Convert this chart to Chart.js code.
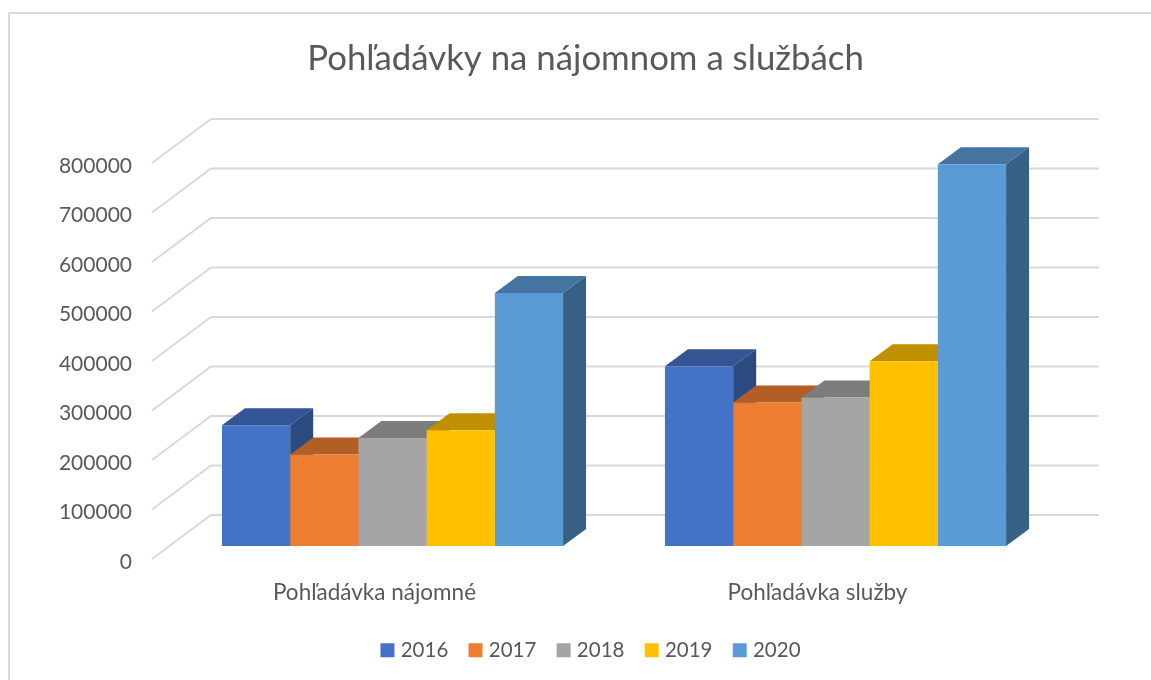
<!DOCTYPE html>
<html lang="sk">
<head>
<meta charset="utf-8">
<title>Pohľadávky na nájomnom a službách</title>
<script src="https://cdn.jsdelivr.net/npm/chart.js@4"></script>
<style>
html,body{margin:0;padding:0;background:#fff;overflow:hidden}
#wrap{position:absolute;left:0;top:0;width:1151px;height:680px}
</style>
</head>
<body>
<div id="wrap"><canvas id="c" width="1151" height="680"></canvas></div>
<script>
const chartTitle = "Pohľadávky na nájomnom a službách";
const categories = ["Pohľadávka nájomné", "Pohľadávka služby"];
const years = ["2016", "2017", "2018", "2019", "2020"];
const values2016 = [244000, 363000];
const values2017 = [185000, 290000];
const values2018 = [218000, 300000];
const values2019 = [234000, 373000];
const values2020 = [511000, 771000];
const seriesValues = [values2016, values2017, values2018, values2019, values2020];
const frontColors = ["#4472C4", "#ED7D31", "#A5A5A5", "#FFC000", "#5B9BD5"];
const topColors   = ["#335593", "#B25E25", "#7C7C7C", "#BF9000", "#44749F"];
const sideColors  = ["#2A4A80", "#8E4B1E", "#636363", "#997300", "#376085"];

const TEXT = "#595959", GRID = "#d9d9d9", FONT = "Lato, 'Open Sans', sans-serif";
const BAR_DX = 23, BAR_DY = 17;

const scene3d = {
  id: "scene3d",
  afterLayout(chart) {
    const l = chart.legend;
    l.left += 7; l.right += 7;
    l.top -= 9.5; l.bottom -= 9.5;
  },
  beforeDraw(chart) {
    const g = chart.ctx;
    g.save();
    g.fillStyle = "#fff";
    g.fillRect(0, 0, chart.width, chart.height);
    g.strokeStyle = GRID;
    g.lineWidth = 2;
    g.beginPath();
    g.moveTo(9, chart.height);
    g.lineTo(9, 13);
    g.lineTo(chart.width, 13);
    g.stroke();
    g.restore();
  },
  beforeDatasetsDraw(chart) {
    const g = chart.ctx, y = chart.scales.y, x = chart.scales.x;
    g.save();
    g.strokeStyle = GRID;
    g.lineWidth = 2;
    y.ticks.forEach(t => {
      const p = y.getPixelForValue(t.value);
      g.beginPath();
      g.moveTo(x.left - 19, p + 13);
      g.lineTo(x.left + 40, p - 31);
      g.lineTo(x.right + 42, p - 31);
      g.stroke();
    });
    g.restore();
    chart.data.datasets.forEach((ds, i) => {
      chart.getDatasetMeta(i).data.forEach(bar => {
        const l = bar.x - bar.width / 2, r = bar.x + bar.width / 2, t = bar.y, b = bar.base;
        g.fillStyle = topColors[i];
        g.beginPath();
        g.moveTo(l, t);
        g.lineTo(l + BAR_DX, t - BAR_DY);
        g.lineTo(r + BAR_DX, t - BAR_DY);
        g.lineTo(r, t);
        g.closePath();
        g.fill();
        g.fillStyle = sideColors[i];
        g.beginPath();
        g.moveTo(r, t);
        g.lineTo(r + BAR_DX, t - BAR_DY);
        g.lineTo(r + BAR_DX, b - BAR_DY);
        g.lineTo(r, b);
        g.closePath();
        g.fill();
      });
    });
  }
};

new Chart(document.getElementById("c"), {
  type: "bar",
  data: {
    labels: categories,
    datasets: years.map((yr, i) => ({
      label: yr,
      data: seriesValues[i],
      backgroundColor: frontColors[i],
      borderWidth: 0,
      categoryPercentage: 0.77,
      barPercentage: 1
    }))
  },
  plugins: [scene3d],
  options: {
    responsive: false,
    animation: false,
    layout: { padding: { left: 20, right: 0, top: 0, bottom: 0 } },
    plugins: {
      tooltip: { enabled: false },
      title: {
        display: true,
        text: chartTitle,
        color: TEXT,
        font: { family: FONT, size: 34.8, weight: "normal", lineHeight: 1.2 },
        padding: { top: 37.5, bottom: 70.74 }
      },
      legend: {
        position: "bottom",
        labels: {
          color: TEXT,
          font: { family: FONT, size: 20.5 },
          usePointStyle: true,
          pointStyle: "rect",
          boxWidth: 6,
          boxHeight: 14,
          padding: 24.25
        }
      }
    },
    scales: {
      x: {
        grid: { display: false },
        border: { display: false },
        ticks: { color: TEXT, font: { family: FONT, size: 22.5 }, labelOffset: -18, padding: 25, maxRotation: 0 },
        afterFit(s) { s.height = 79.25; }
      },
      y: {
        min: 0,
        max: 800000,
        grid: { display: false },
        border: { display: false },
        ticks: { stepSize: 100000, color: TEXT, font: { family: FONT, size: 21 }, labelOffset: 16, padding: 31,
                 callback: v => String(v) },
        afterFit(s) { s.width = 151; }
      },
      yRight: {
        position: "right",
        grid: { display: false },
        border: { display: false },
        ticks: { display: false },
        afterFit(s) { s.width = 94; }
      }
    }
  }
});
</script>
</body>
</html>
